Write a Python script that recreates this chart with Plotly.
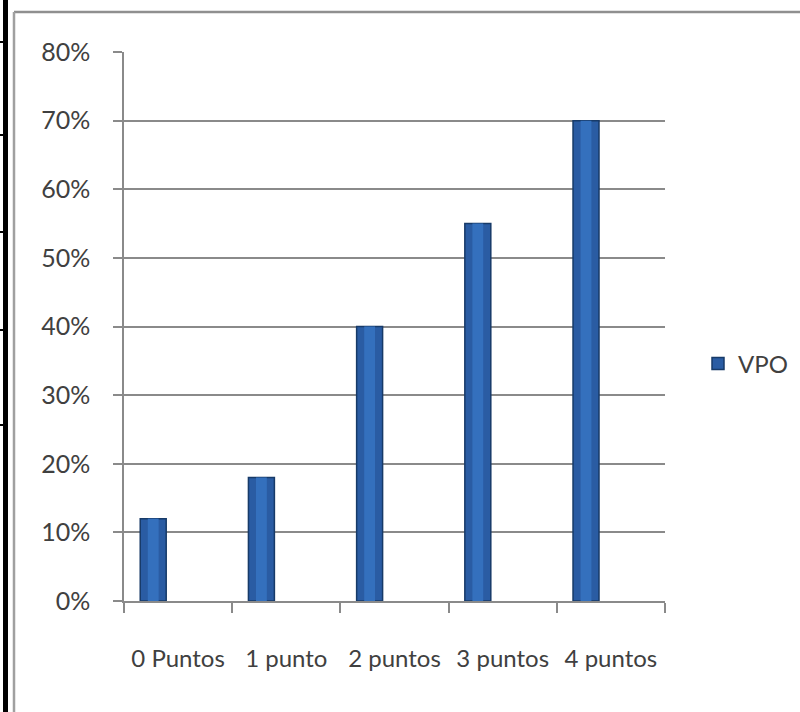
import plotly.graph_objects as go

categories = ["0 Puntos", "1 punto", "2 puntos", "3 puntos", "4 puntos"]
vpo_values = [0.12, 0.18, 0.40, 0.55, 0.70]
series_name = "VPO"
y_ticks = [0, 0.1, 0.2, 0.3, 0.4, 0.5, 0.6, 0.7, 0.8]

W, H = 800, 712
L, R, T, B = 124, 665, 52, 601  # plot area in pixels

def px_x(x):
    return (x - L) / (R - L)

def px_y(y):
    return (B - y) / (B - T)

fig = go.Figure()
fig.add_trace(go.Bar(
    x=categories, y=vpo_values, name=series_name,
    offset=-0.35, width=0.24,
    marker=dict(color="#2a5ca3", line=dict(color="#173a68", width=1.5)),
))
# inner highlight for a shaded look (not in legend)
fig.add_trace(go.Bar(
    x=categories, y=vpo_values, showlegend=False, hoverinfo="skip",
    offset=-0.35 + 0.07, width=0.10,
    marker=dict(color="#3470bd", line=dict(width=0)),
))

font_family = "Lato, 'Open Sans', sans-serif"
grey = "#8a8a8a"
text_col = "#404040"

shapes = [
    # chart frame: top and left edges (others fall outside the crop)
    dict(type="line", xref="paper", yref="paper",
         x0=px_x(14), x1=px_x(800), y0=px_y(12), y1=px_y(12),
         line=dict(color="#8f8f8f", width=2.5)),
    dict(type="line", xref="paper", yref="paper",
         x0=px_x(14), x1=px_x(14), y0=px_y(12), y1=px_y(712),
         line=dict(color="#a0a0a0", width=2.5)),
    # thick black line at left edge
    dict(type="rect", xref="paper", yref="paper",
         x0=px_x(3), x1=px_x(8), y0=px_y(712), y1=px_y(0),
         fillcolor="black", line=dict(width=0)),
]
for yy in [42, 135, 232, 330, 425]:
    shapes.append(dict(type="line", xref="paper", yref="paper",
                       x0=px_x(0), x1=px_x(5), y0=px_y(yy), y1=px_y(yy),
                       line=dict(color="black", width=2)))

fig.update_layout(
    width=W, height=H,
    margin=dict(l=L, r=W - R, t=T, b=H - B, pad=0, autoexpand=False),
    paper_bgcolor="white", plot_bgcolor="white",
    barmode="overlay",
    font=dict(family=font_family, color=text_col, size=25),
    showlegend=True,
    legend=dict(x=px_x(698), y=px_y(364), xanchor="left", yanchor="middle",
                font=dict(size=24, color=text_col), itemwidth=30,
                bgcolor="rgba(0,0,0,0)"),
    shapes=shapes,
    xaxis=dict(
        type="category", range=[-0.5, 4.5],
        showgrid=False, showline=True, linecolor=grey, linewidth=1.5,
        ticks="outside", ticklen=10, tickcolor=grey, tickwidth=1.5,
        tickson="boundaries", ticklabelstandoff=35, tickangle=0,
        tickfont=dict(size=24, color=text_col),
    ),
    yaxis=dict(
        range=[0, 0.8], tickvals=y_ticks, tickformat=".0%",
        showgrid=True, gridcolor=grey, gridwidth=1.5,
        showline=True, linecolor=grey, linewidth=1.5,
        ticks="outside", ticklen=9, tickcolor=grey, tickwidth=1.5,
        ticklabelstandoff=18, zeroline=False,
        tickfont=dict(size=25, color=text_col),
    ),
)

fig.write_html("out.html")
